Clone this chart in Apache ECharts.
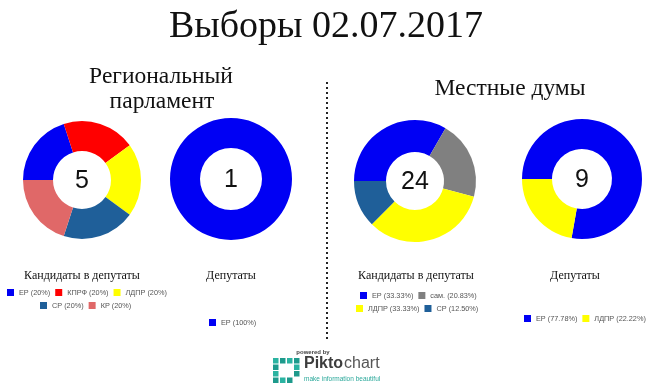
<!DOCTYPE html>
<html><head><meta charset="utf-8">
<script src="https://cdn.jsdelivr.net/npm/echarts@6/dist/echarts.min.js"></script>
<style>html,body{margin:0;padding:0;background:#fff}#c{width:655px;height:390px}</style>
</head><body><div id="c"></div>
<script>
// Data
const regCandNames = ['ЕР', 'КПРФ', 'ЛДПР', 'СР', 'КР'];
const regCandValues = [1, 1, 1, 1, 1];
const regDepNames = ['ЕР'];
const regDepValues = [1];
const locCandNames = ['ЕР', 'сам.', 'ЛДПР', 'СР'];
const locCandValues = [8, 5, 8, 3];
const locDepNames = ['ЕР', 'ЛДПР'];
const locDepValues = [7, 2];

const partyColors = {'ЕР':'#0000f4','КПРФ':'#ff0000','ЛДПР':'#ffff00','СР':'#1f5f99','КР':'#e06868','сам.':'#808080'};

function build(names, values, decimals){
  const total = values.reduce((a,b)=>a+b,0);
  return {total, data: names.map((n,i)=>{
    let p = (values[i]/total*100).toFixed(decimals);
    if (decimals>0) p = p.replace(/\.00$/, '');
    return {name: n + ' (' + p + '%)', value: values[i], itemStyle:{color: partyColors[n]}};
  })};
}
const p1 = build(regCandNames, regCandValues, 0);
const p2 = build(regDepNames, regDepValues, 0);
const p3 = build(locCandNames, locCandValues, 2);
const p4 = build(locDepNames, locDepValues, 2);

function pie(c, r, d){
  return {type:'pie', center:c, radius:r, startAngle:180, clockwise:true, silent:true,
    label:{show:false}, labelLine:{show:false}, itemStyle:{borderWidth:0},
    emphasis:{disabled:true}, animation:false, data:d.data};
}
const legTxt = {fontSize:7.3, color:'#555', fontFamily:'Liberation Sans, Arial, sans-serif'};
function legend(left, top, names){
  return {left:left, top:top, width:300, orient:'horizontal', itemWidth:7, itemHeight:7, itemGap:5,
    icon:'rect', textStyle:legTxt, selectedMode:false, padding:0, data:names};
}
const serif = 'Liberation Serif, Times New Roman, serif';
const sans = 'Liberation Sans, Arial, sans-serif';
function txt(x,y,t,size,font,extra){
  return {type:'text', x:x, y:y, silent:true, style:Object.assign({text:t, fontSize:size, fontFamily:font, fill:'#111', textAlign:'center', textVerticalAlign:'middle'}, extra||{})};
}

const logoCells = [[0,0],[1,0],[2,0],[3,0],[0,1],[3,1],[0,2],[3,2],[0,3],[1,3],[2,3]];
const logo = logoCells.map(([cx,cy])=>({type:'rect', silent:true,
  shape:{x:273+cx*7, y:358+cy*6.5, width:5.5, height:5.5}, style:{fill: (cx+cy)%2? '#1e9a8c':'#2bb3a1'}}));

const chart = echarts.init(document.getElementById('c'), null, {renderer:'canvas'});
chart.setOption({
  animation:false,
  backgroundColor:'#fff',
  legend:[
    legend(7, 289, p1.data.slice(0,3).map(d=>d.name)),
    legend(40, 302, p1.data.slice(3).map(d=>d.name)),
    legend(209, 319, p2.data.map(d=>d.name)),
    legend(360, 292, p3.data.slice(0,2).map(d=>d.name)),
    legend(356, 305, p3.data.slice(2).map(d=>d.name)),
    legend(524, 315, p4.data.map(d=>d.name))
  ],
  series:[
    pie([82,180],[29,59],p1),
    pie([231,179],[31,61],p2),
    pie([415,181],[29,61],p3),
    pie([582,179],[30,60],p4)
  ],
  graphic:[
    txt(326,27,'Выборы 02.07.2017',38,serif),
    txt(161,77,'Региональный',23.5,serif),
    txt(162,102,'парламент',23.5,serif),
    txt(510,89,'Местные думы',23.5,serif),
    txt(82,276,'Кандидаты в депутаты',12,serif),
    txt(231,276,'Депутаты',12,serif),
    txt(416,276,'Кандидаты в депутаты',12,serif),
    txt(575,276,'Депутаты',12,serif),
    txt(82,181,String(p1.total),25,sans),
    txt(231,180,String(p2.total),25,sans),
    txt(415,182,String(p3.total),25,sans),
    txt(582,180,String(p4.total),25,sans),
    {type:'line', silent:true, shape:{x1:327,y1:82,x2:327,y2:339}, style:{stroke:'#222', lineWidth:2, lineDash:[2,3]}},
    txt(313,352,'powered by',6,sans,{fill:'#444', fontWeight:'bold'}),
    {type:'text', x:304, y:372, silent:true, style:{text:'Pikto', fontSize:16, fontWeight:'bold', fontFamily:sans, fill:'#3d3d3d', textAlign:'left', textVerticalAlign:'bottom'}},
    {type:'text', x:344, y:372, silent:true, style:{text:'chart', fontSize:16, fontFamily:sans, fill:'#555', textAlign:'left', textVerticalAlign:'bottom'}},
    {type:'text', x:304, y:379, silent:true, style:{text:'make information beautiful', fontSize:6.5, fontFamily:sans, fill:'#2aa89a', textAlign:'left', textVerticalAlign:'middle'}}
  ].concat(logo)
});
</script></body></html>
